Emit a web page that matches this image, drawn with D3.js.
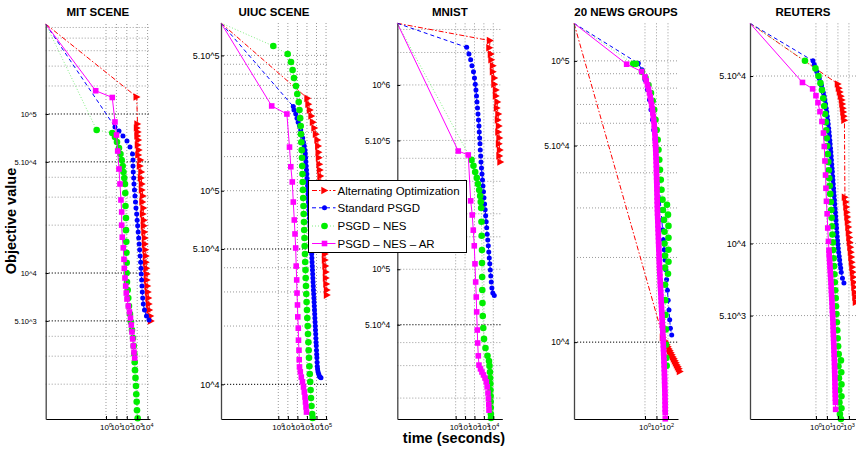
<!DOCTYPE html>
<html>
<head>
<meta charset="utf-8">
<script src="https://cdn.jsdelivr.net/npm/d3@7"></script>
<style>
body { margin: 0; background: #fff; }
svg { display: block; font-family: "Liberation Sans", Arial, sans-serif; }
</style>
</head>
<body>
<script>
// ---- data: [time in seconds, objective value] ----
const panelTitles = ["MIT SCENE", "UIUC SCENE", "MNIST", "20 NEWS GROUPS", "REUTERS"];
const seriesNames = ["Alternating Optimization", "Standard PSGD", "PSGD \u2013 NES", "PSGD \u2013 NES \u2013 AR"];

// MIT SCENE
const mitXLim = [1.6e-6, 1.7e4];
const mitYLim = [1208, 368000];
const mitXTicks = [1, 10, 100, 1000, 10000];
const mitYTicks = [5000, 10000, 50000, 100000];
const mitYLabels = ["5.10^3", "10^4", "5.10^4", "10^5"];
const mitGridDark = [5000, 10000, 50000, 100000];
const mitGridLight = [2000, 3000, 4000, 20000, 30000, 40000, 150000, 200000, 250000, 300000, 350000];
const mitAlt = [[1.6e-6,368000],[900,128000],[1070,86500],[955,81700],[1180,77100],[1070,72800],[1320,68600],[1180,63800],[1480,59400],[1320,55200],[2090,51400],[1860,47100],[2570,43200],[2340,39600],[2880,36300],[2880,33300],[3630,30500],[3240,28000],[4070,25600],[3630,23500],[4470,21500],[4470,19800],[5010,18100],[5620,16600],[5620,15200],[6310,14000],[7080,12800],[7080,11700],[7760,10700],[8710,9860],[8710,9040],[9770,8280],[11000,7600],[12300,6970],[13500,6380],[15100,5850],[19100,5370],[21400,4990]];
const mitStd = [[1.6e-6,368000],[7.3,82800],[17.7,78200],[43,72800],[104,67600],[202,62000],[352,56000],[393,51400],[393,47100],[420,43200],[459,39600],[490,36300],[547,33300],[612,30500],[684,28000],[764,25600],[891,23500],[995,21500],[1110,19800],[1240,18100],[1390,16600],[1550,15200],[1730,14000],[1930,12800],[2160,11700],[2310,10700],[2470,9860],[2700,9040],[2880,8280],[3080,7600],[3370,6970],[3850,6380],[5010,5850],[7800,5370],[13600,5060]];
const mitNes = [[1.6e-6,368000],[0.127,79300],[4.02,76000],[7.3,71700],[11.4,66700],[17.7,61100],[24.7,56000],[32.2,51400],[40.2,47100],[48,43200],[57.3,39600],[66.8,36300],[71.4,31800],[74.6,26400],[83.4,22200],[83.4,18600],[89.1,15700],[93.1,13400],[97.3,11600],[97.3,10000],[104,8770],[122,7810],[139,6970],[162,6200],[202,5520],[252,4920],[315,4380],[393,3900],[459,3480],[524,3100],[573,2750],[612,2450],[684,2190],[764,1950],[817,1730],[891,1550],[953,1370],[1110,1220]];
const mitNesAr = [[1.6e-6,368000],[0.102,140000],[4.02,127000],[7.3,89100],[10.2,73800],[13.3,58500],[17.7,45100],[22.1,36300],[27.5,28800],[32.2,24200],[32.2,20000],[36.7,16800],[45.9,14400],[53.6,12200],[57.3,10700],[66.8,9310],[78,8280],[89.1,7480],[104,6860],[139,6200],[181,5690],[226,5210],[270,4710],[315,4260],[367,3850],[420,3480],[490,3180],[573,2920]];

// UIUC SCENE
const uiucXLim = [1e-6, 1.26e5];
const uiucYLim = [6620, 735000];
const uiucXTicks = [1, 10, 100, 1000, 10000, 100000];
const uiucYTicks = [10000, 50000, 100000, 500000];
const uiucYLabels = ["10^4", "5.10^4", "10^5", "5.10^5"];
const uiucGridDark = [10000, 50000];
const uiucGridLight = [20000, 30000, 40000, 100000, 150000, 200000, 250000, 300000, 350000, 400000, 450000, 500000];
const uiucAlt = [[1e-6,735000],[1140,300000],[1450,280000],[2080,261000],[2990,243000],[4300,226000],[6180,211000],[8870,196000],[12700,183000],[15400,170000],[17000,158000],[18300,148000],[20600,137000],[23200,128000],[26200,119000],[29600,111000],[33400,103000],[37700,96100],[37700,89500],[42500,83400],[42500,77600],[48000,72300],[48000,67300],[54100,62700],[54100,58300],[61000,54300],[68900,50600],[77600,47100],[77600,43900],[87500,40900],[98800,38000],[98800,35400],[111000,33000],[126000,30700],[126000,28900]];
const uiucStd = [[1e-6,735000],[37.2,272000],[44.1,261000],[67.9,249000],[90.8,237000],[121,226000],[170,216000],[222,206000],[289,196000],[359,187000],[435,178000],[528,170000],[625,162000],[672,155000],[722,148000],[776,141000],[834,134000],[897,128000],[964,122000],[1020,116000],[1090,111000],[1160,106000],[1230,101000],[1300,96100],[1380,91700],[1450,87400],[1520,83400],[1620,79500],[1720,75800],[1830,72300],[1940,68900],[2080,65700],[2240,62700],[2380,59800],[2530,57000],[2690,54300],[2850,51800],[2990,49400],[3140,47100],[3300,44900],[3460,42800],[3630,40800],[3810,38900],[4000,37100],[4200,35400],[4400,33800],[4620,32200],[4850,30700],[5090,29300],[5340,27900],[5610,26600],[5890,25400],[6180,24200],[6490,23100],[6810,22000],[7130,21000],[7480,20000],[7860,19100],[8240,18200],[8650,17300],[9080,16500],[9530,15800],[10000,15000],[10500,14300],[11000,13700],[11600,13000],[12100,12400],[13000,12000],[14400,11600],[17000,11300],[20600,11000],[23200,10900],[29600,10800]];
const uiucNes = [[1e-6,735000],[0.30,559000],[9.6,508000],[21.4,462000],[31.4,420000],[44.1,382000],[71.3,347000],[97.7,316000],[137,287000],[166,261000],[196,237000],[222,216000],[238,196000],[256,178000],[282,162000],[303,148000],[318,134000],[342,122000],[359,111000],[386,101000],[405,91700],[435,83400],[457,75800],[491,68900],[515,62700],[553,57000],[581,51800],[625,47100],[656,42800],[705,38900],[740,35400],[796,32200],[855,29300],[919,26600],[1010,24200],[1090,22000],[1200,20000],[1290,18200],[1420,16500],[1520,15000],[1640,13700],[1810,12400],[1990,11300],[2190,10300],[2410,9340],[2650,8500],[2990,7730],[3550,7030],[4000,6700]];
const uiucNesAr = [[1e-6,735000],[0.204,274000],[7.96,249000],[14.9,168000],[20.4,133000],[29.2,111000],[37.2,87400],[47.3,70600],[56.1,59800],[66.4,50600],[74.8,40800],[84.5,34600],[90.8,29600],[102,25700],[110,22300],[124,19500],[130,16900],[147,15000],[155,13400],[166,12300],[201,11600],[256,10900],[342,10300],[435,9680],[528,9120],[625,8600],[705,8100],[796,7640],[897,7190]];

// MNIST
const mnistXLim = [6.2e-7, 9.1e4];
const mnistYLim = [15400, 2160000];
const mnistXTicks = [1, 10, 100, 1000, 10000];
const mnistYTicks = [50000, 100000, 500000, 1000000];
const mnistYLabels = ["5.10^4", "10^5", "5.10^5", "10^6"];
const mnistGridDark = [50000];
const mnistGridLight = [20000, 30000, 40000, 100000, 150000, 200000, 300000, 400000, 500000, 1000000, 1500000, 2000000];
const mnistAlt = [[6.2e-7,2160000],[4460,1740000],[3940,1590000],[5690,1470000],[6440,1370000],[9290,1270000],[9290,1180000],[13400,1090000],[13400,1010000],[19400,940000],[19400,872000],[28000,809000],[24800,750000],[35700,696000],[31600,646000],[40400,599000],[35700,556000],[45700,516000],[40400,479000],[51600,444000],[45700,412000],[58300,382000]];
const mnistStd = [[6.2e-7,2160000],[14.8,1600000],[26,1470000],[39.4,1370000],[54.2,1270000],[78.3,1180000],[100,1090000],[122,1010000],[144,940000],[163,872000],[184,809000],[209,750000],[236,696000],[266,646000],[301,599000],[324,556000],[357,516000],[385,479000],[414,444000],[457,412000],[491,382000],[556,354000],[628,329000],[710,305000],[802,283000],[906,263000],[1030,244000],[1190,226000],[1370,210000],[1550,195000],[1760,181000],[1990,168000],[2240,155000],[2600,144000],[2940,134000],[3320,124000],[3750,115000],[4250,107000],[4800,99100],[5420,91900],[6120,85300],[7100,79100],[8850,74400],[12800,72100]];
const mnistNes = [[6.2e-7,2160000],[48,392000],[78.3,364000],[119,337000],[176,313000],[236,290000],[316,269000],[404,250000],[468,232000],[516,215000],[556,181000],[583,152000],[628,127000],[628,108000],[659,90800],[676,77200],[710,65600],[764,55800],[863,48000],[1030,41900],[1480,37400],[2420,33900],[3490,31800],[3940,29900],[4460,27700],[4680,25700],[4910,23900],[5040,22100],[5160,20500],[5290,19100],[5420,17700],[5560,16400],[5690,15600]];
const mnistNesAr = [[6.2e-7,2160000],[1.89,438000],[21.9,417000],[39.4,235000],[58.3,197000],[74.5,163000],[95.2,134000],[113,107000],[134,85300],[155,70700],[171,58700],[199,46800],[219,39800],[254,33900],[301,30200],[435,28800],[628,27700],[906,26700],[1310,25700],[1800,24500],[2240,23000],[2730,21300],[3080,19800],[3320,18400],[3490,17200]];

// 20 NEWS GROUPS
const ngXLim = [6.8e-7, 741];
const ngYLim = [5330, 136000];
const ngXTicks = [1, 10, 100];
const ngYTicks = [10000, 50000, 100000];
const ngYLabels = ["10^4", "5.10^4", "10^5"];
const ngGridDark = [10000];
const ngGridLight = [20000, 30000, 40000, 50000, 60000, 70000, 80000, 90000, 100000];
const ngAlt = [[6.8e-7,136000],[36.7,10400],[54.8,10100],[67,9940],[81.8,9780],[100,9620],[122,9460],[149,9310],[182,9160],[223,9010],[272,8860],[333,8720],[406,8580],[497,8440],[606,8300],[741,8170],[906,8040],[1100,7870]];
const ngStd = [[6.8e-7,136000],[0.261,98000],[0.548,92900],[1.0,85600],[1.65,78900],[2.46,72700],[3.32,67000],[4.49,61700],[5.71,56800],[7.41,52400],[9.05,48300],[11,44500],[13,41000],[15.5,37800],[18.2,34800],[21.4,32100],[24.6,29500],[28.9,27200],[33.9,25100],[39.8,23100],[46.8,21300],[54.8,19600],[64.4,18100],[75.5,16700],[88.7,15300],[104,14100],[122,13000],[141,12000],[162,11200],[210,10600]];
const ngNes = [[6.8e-7,136000],[0.096,97600],[0.165,97600],[0.548,91400],[1.1,87000],[2.01,82100],[3.32,76900],[4.68,72100],[6.31,67000],[8.19,61700],[10.4,56800],[12.7,52400],[14.9,48300],[17.5,44500],[20.1,41000],[23.7,37800],[27.2,34800],[33.2,32100],[81.8,30800],[36.7,29500],[100,28400],[44.9,27200],[110,25900],[49.7,24700],[110,23500],[49.7,22400],[110,21300],[54.8,20300],[110,19300],[54.8,18400],[100,17500],[54.8,16000],[57.1,14100],[60.6,12500],[64.4,11100],[67,9780],[71.2,8790],[77.1,8240]];
const ngNesAr = [[6.8e-7,136000],[0.0256,97300],[0.516,91600],[1.0,87700],[1.28,84900],[1.65,82100],[2.01,79500],[2.46,76900],[2.86,74500],[3.32,72100],[3.79,69800],[4.31,67500],[4.77,65300],[5.27,63200],[5.77,61200],[6.31,59200],[6.70,57300],[7.11,55500],[7.48,53700],[7.87,52000],[8.19,50300],[8.52,48700],[8.78,47100],[9.05,45600],[9.33,44100],[9.61,42700],[9.80,41300],[10,40000],[10.2,38700],[10.4,37500],[10.6,36200],[10.8,35100],[11,34000],[11.3,32800],[11.5,31800],[11.7,30800],[12,29800],[12.2,28800],[12.6,27900],[13,27000],[13.4,26100],[13.8,25300],[14.2,24500],[14.6,23700],[15.1,22900],[15.5,22200],[16,21500],[16.5,20800],[17,20100],[17.5,19500],[18.1,18800],[18.6,18200],[19.4,17600],[20.1,17100],[21,16500],[21.8,16000],[22.7,15500],[23.7,15000],[24.6,14500],[25.6,14000],[26.7,13600],[27.8,13100],[28.9,12700],[30.1,12300],[31.3,11900],[32.6,11500],[33.9,11200],[35.3,10800],[36.7,10400],[38.3,10100],[39.4,9780],[40.6,9470],[41.9,9160],[43.2,8870],[44.5,8580],[45.8,8310],[47.2,8040],[48.6,7780],[49.7,7530],[50.6,7290],[51.6,7050],[52.7,6820],[53.7,6600],[54.8,6390],[55.3,6180],[56,5980],[56.5,5790],[57.1,5610],[58.2,5340]];

// REUTERS
const reXLim = [1e-6, 4400];
const reYLim = [1850, 83000];
const reXTicks = [1, 10, 100, 1000];
const reYTicks = [5000, 10000, 50000];
const reYLabels = ["5.10^3", "10^4", "5.10^4"];
const reGridDark = [];
const reGridLight = [5000, 10000, 50000];
const reAlt = [[1e-6,83000],[100,46300],[123,44500],[152,42900],[187,41200],[231,39700],[257,38200],[285,36700],[316,35400],[351,34000],[390,32700],[433,15600],[534,14900],[593,14200],[658,13500],[731,12900],[811,12300],[901,11700],[1000,11100],[1110,10600],[1230,10100],[1370,9650],[1520,9200],[1690,8770],[1870,8350],[2080,7960],[2310,7590],[2570,7230],[2850,6890],[3160,6570],[3510,6260],[3900,5970],[4330,5690]];
const reStd = [[1e-6,83000],[0.533,57900],[0.70,55900],[0.901,54000],[1.18,52200],[1.52,50500],[2.0,48800],[2.57,47200],[3.16,45600],[3.9,44100],[4.71,42600],[5.56,41200],[6.44,39700],[7.46,38200],[8.46,36700],[9.59,35400],[10.6,34000],[11.8,32700],[13,31500],[14.3,30300],[15.5,29200],[16.9,28100],[18.2,27000],[19.5,26000],[21,25000],[22.6,24100],[24.1,23200],[25.6,22300],[27.3,21400],[29.1,20600],[31,19900],[33,19100],[35.1,18400],[37.4,17700],[39.8,17000],[42.4,16400],[45.2,15800],[48.1,15200],[51.2,14600],[54.5,14000],[58,13500],[61.8,13000],[65.8,12500],[70,12000],[74.6,11600],[79.4,11100],[85.5,10700],[92,10300],[98.9,9930],[106,9560],[117,9200],[129,8850],[143,8520],[158,8190],[178,7890],[200,7590],[257,7160],[351,6830]];
const reNes = [[1e-6,83000],[0.1,57900],[0.9,53800],[1.69,50000],[2.57,46700],[3.51,43700],[4.61,40400],[5.69,37500],[6.86,34700],[7.78,32100],[8.63,29700],[9.59,27500],[10.6,25500],[11.8,23600],[13.1,21900],[14.6,20200],[16.2,18700],[18,17400],[20,16100],[22.2,14900],[24.6,13800],[26.7,12800],[29.1,11800],[31.6,10900],[34.4,10100],[37.4,9380],[40.6,8680],[44.2,8040],[48.1,7440],[52.2,6890],[56.9,6380],[61.8,5910],[67.1,5470],[73.1,5070],[79.4,4690],[86.3,4340],[94,4020],[104,3720],[116,3450],[187,3250],[111,3070],[200,2900],[123,2740],[208,2580],[131,2440],[208,2300],[137,2170],[208,2050],[152,1940],[187,1850]];
const reNesAr = [[1e-6,83000],[0.0593,47000],[0.501,44200],[1.0,41400],[1.52,38700],[2.31,35500],[3.51,32300],[4.81,28900],[5.69,25400],[6.58,22100],[7.46,19300],[8.11,17000],[9.01,15000],[10.4,13300],[11.8,11600],[13.7,10200],[15.2,9380],[16,9020],[16.9,8680],[17.8,8350],[18.7,8040],[19.7,7740],[20.8,7440],[21.9,7160],[23.1,6890],[24.1,6630],[25.1,6380],[26.2,6140],[27.3,5910],[28.5,5690],[29.7,5470],[31,5260],[32.3,5070],[33.7,4880],[35.1,4690],[36.2,4510],[37.4,4340],[38.6,4180],[39.8,4020],[41.1,3870],[42.4,3720],[43.7,3580],[45.2,3450],[46.6,3320],[48.1,3190],[49.1,3070],[50.1,2960],[51.2,2850],[52.2,2740],[53.4,2630],[54.5,2530],[55.6,2440],[56.9,2350],[58,2260],[59.3,2170],[61.8,2030]];

// ---- layout ----
const width = 856;
const height = 450;
const bottom = 419;

const panels = [
  { left: 45.7, right: 150, top: 24, gap: 9, fs: 7.5,
    xLim: mitXLim, yLim: mitYLim, xTicks: mitXTicks, yTicks: mitYTicks, yLabels: mitYLabels,
    dark: mitGridDark, light: mitGridLight, series: [mitAlt, mitStd, mitNes, mitNesAr] },
  { left: 221, right: 327, top: 23, gap: 1.5, fs: 9,
    xLim: uiucXLim, yLim: uiucYLim, xTicks: uiucXTicks, yTicks: uiucYTicks, yLabels: uiucYLabels,
    dark: uiucGridDark, light: uiucGridLight, series: [uiucAlt, uiucStd, uiucNes, uiucNesAr] },
  { left: 397.3, right: 502.3, top: 23.3, gap: 7, fs: 8.5,
    xLim: mnistXLim, yLim: mnistYLim, xTicks: mnistXTicks, yTicks: mnistYTicks, yLabels: mnistYLabels,
    dark: mnistGridDark, light: mnistGridLight, series: [mnistAlt, mnistStd, mnistNes, mnistNesAr] },
  { left: 574, right: 678, top: 23.3, gap: 4.5, fs: 8.5,
    xLim: ngXLim, yLim: ngYLim, xTicks: ngXTicks, yTicks: ngYTicks, yLabels: ngYLabels,
    dark: ngGridDark, light: ngGridLight, series: [ngAlt, ngStd, ngNes, ngNesAr] },
  { left: 750, right: 856, top: 23.3, gap: 4, fs: 9,
    xLim: reXLim, yLim: reYLim, xTicks: reXTicks, yTicks: reYTicks, yLabels: reYLabels,
    dark: reGridDark, light: reGridLight, series: [reAlt, reStd, reNes, reNesAr] }
];

// line style + marker for each series (same order as seriesNames)
const styles = [
  { color: "#ff0000", line: "#ff0000", dash: "5,2,1.5,2", marker: "M-3.2,-3.8L3.8,0L-3.2,3.8Z" },
  { color: "#0000ff", line: "#0000ff", dash: "4,3", marker: "M-2.5,0a2.5,2.5 0 1,0 5,0a2.5,2.5 0 1,0 -5,0" },
  { color: "#00ee00", line: "#80ee80", dash: "1,2", marker: "M-3.3,0a3.3,3.3 0 1,0 6.6,0a3.3,3.3 0 1,0 -6.6,0" },
  { color: "#ff00ff", line: "#ff00ff", dash: null, marker: "M-2.8,-2.8h5.6v5.6h-5.6z" }
];

const svg = d3.select("body").append("svg")
    .attr("width", width)
    .attr("height", height);

panels.forEach((p, pi) => {
  const x = d3.scaleLog().domain(p.xLim).range([p.left, p.right]);
  const y = d3.scaleLog().domain(p.yLim).range([bottom, p.top]);
  const g = svg.append("g");

  // grid
  g.selectAll(".vgrid").data(p.xTicks).join("line").attr("class", "vgrid")
      .attr("x1", d => x(d)).attr("x2", d => x(d))
      .attr("y1", p.top).attr("y2", bottom)
      .attr("stroke", "#9a9a9a").attr("stroke-dasharray", "1,2");
  g.selectAll(".hgrid").data(p.light).join("line").attr("class", "hgrid")
      .attr("x1", p.left).attr("x2", p.right)
      .attr("y1", d => y(d)).attr("y2", d => y(d))
      .attr("stroke", "#9a9a9a").attr("stroke-dasharray", "1,2");
  g.selectAll(".dgrid").data(p.dark).join("line").attr("class", "dgrid")
      .attr("x1", p.left).attr("x2", p.right)
      .attr("y1", d => y(d)).attr("y2", d => y(d))
      .attr("stroke", "#000").attr("stroke-dasharray", "1.2,1.8");

  const line = d3.line().x(d => x(d[0])).y(d => y(d[1]));

  p.series.forEach((s, si) => {
    const st = styles[si];
    g.append("path")
        .datum(s)
        .attr("d", line)
        .attr("fill", "none")
        .attr("stroke", st.line)
        .attr("stroke-width", 1)
        .attr("stroke-dasharray", st.dash);
    g.append("g").selectAll("path").data(s.slice(1)).join("path")
        .attr("transform", d => `translate(${x(d[0])},${y(d[1])})`)
        .attr("d", st.marker)
        .attr("fill", st.color);
  });

  // axes
  const xAxis = g.append("g")
      .attr("transform", `translate(0,${bottom})`)
      .call(d3.axisBottom(x).tickValues(p.xTicks).tickFormat("").tickSizeInner(-3).tickSizeOuter(0));
  xAxis.select(".domain").attr("stroke", "#000");

  const yAxis = g.append("g")
      .attr("transform", `translate(${p.left},0)`)
      .call(d3.axisLeft(y).tickValues(p.yTicks).tickFormat((d, i) => p.yLabels[i])
            .tickSizeInner(-3).tickSizeOuter(0).tickPadding(p.gap));
  yAxis.select(".domain").attr("stroke", "#444").attr("stroke-width", 1.3);
  yAxis.selectAll("text").attr("font-family", "Liberation Sans, Arial, sans-serif")
      .attr("font-size", p.fs).attr("fill", "#000");

  // x tick labels 10^k (they crowd together, as in the original figure)
  g.append("g").selectAll("text").data(p.xTicks).join("text")
      .attr("x", d => x(d)).attr("y", 430)
      .attr("text-anchor", "middle")
      .attr("font-size", 8)
      .each(function(d) {
        const t = d3.select(this);
        t.append("tspan").text("10");
        t.append("tspan").attr("dy", -3.5).attr("font-size", 5.5).text(Math.round(Math.log10(d)));
      });

  // title
  g.append("text")
      .attr("x", (p.left + p.right) / 2).attr("y", 16)
      .attr("text-anchor", "middle")
      .attr("font-weight", "bold").attr("font-size", 11.5)
      .text(panelTitles[pi]);
});

svg.append("text")
    .attr("transform", "translate(16,221) rotate(-90)")
    .attr("text-anchor", "middle")
    .attr("font-weight", "bold").attr("font-size", 14.5)
    .text("Objective value");

svg.append("text")
    .attr("x", 454).attr("y", 443)
    .attr("text-anchor", "middle")
    .attr("font-weight", "bold").attr("font-size", 14.5)
    .text("time (seconds)");

// legend
const legend = svg.append("g").attr("transform", "translate(308.5,180.5)");
legend.append("rect")
    .attr("width", 158).attr("height", 72)
    .attr("fill", "#fff").attr("stroke", "#000").attr("stroke-width", 1);
const rows = [10, 27.3, 45.5, 63];
seriesNames.forEach((name, i) => {
  const st = styles[i];
  const row = legend.append("g").attr("transform", `translate(0,${rows[i]})`);
  row.append("line").attr("x1", 3.5).attr("x2", 27).attr("y1", 0).attr("y2", 0)
      .attr("stroke", st.line).attr("stroke-dasharray", st.dash);
  row.append("path").attr("transform", "translate(16,0)").attr("d", st.marker).attr("fill", st.color);
  row.append("text").attr("x", 29).attr("y", 0).attr("dy", "0.35em")
      .attr("font-size", 11.5).text(name);
});
</script>
</body>
</html>
